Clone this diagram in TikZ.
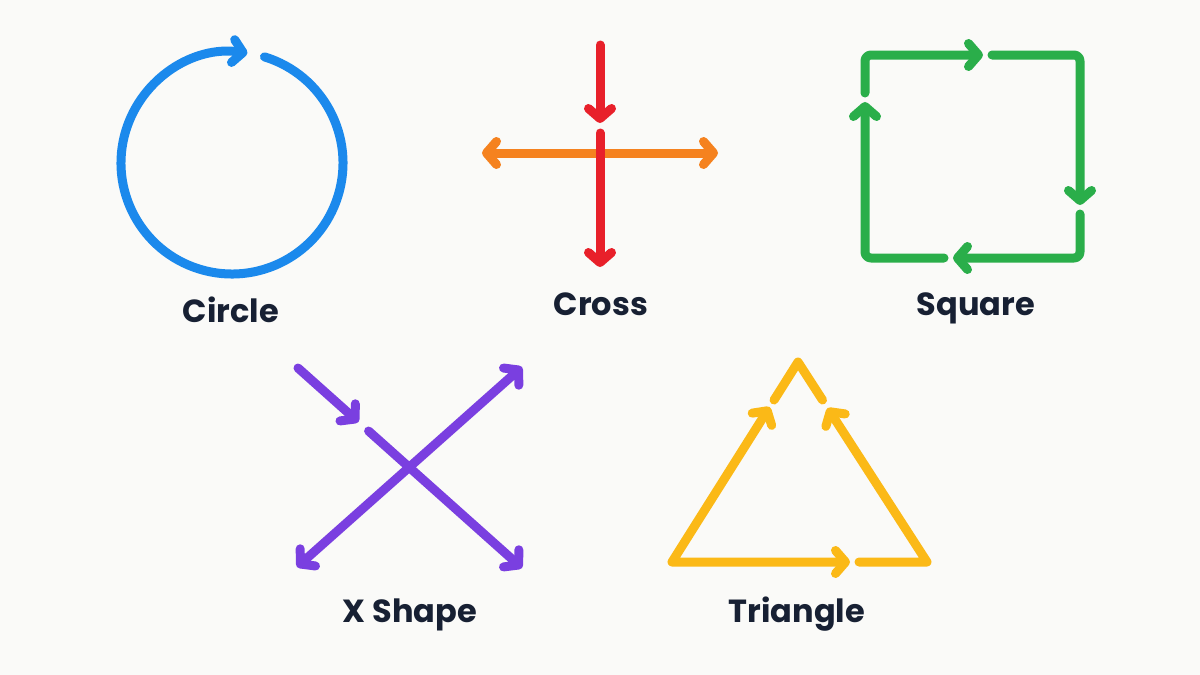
\documentclass[tikz,border=0pt]{standalone}
\usepackage{fontspec}
\newfontfamily\lblfont{Poppins Bold}
\usetikzlibrary{arrows.meta,calc}
\definecolor{bgc}{RGB}{250,250,248}
\definecolor{cblue}{RGB}{27,137,236}
\definecolor{cred}{RGB}{232,32,42}
\definecolor{corange}{RGB}{245,130,31}
\definecolor{cgreen}{RGB}{42,174,74}
\definecolor{cpurple}{RGB}{122,63,224}
\definecolor{cyellow}{RGB}{251,185,23}
\definecolor{ctext}{RGB}{23,32,51}
\tikzset{
  shapeline/.style={line width=9pt, line cap=round, line join=round},
  >={Straight Barb[length=10pt, width=23pt, round]},
  lbl/.style={anchor=base, text=ctext, font=\lblfont\fontsize{32}{36}\selectfont},
}
\begin{document}
\begin{tikzpicture}[x=1pt,y=-1pt]
\useasboundingbox (0,0) rectangle (1200,675);
\fill[bgc] (0,0) rectangle (1200,675);

% Circle
\coordinate (cc) at (232,163);
\draw[shapeline, cblue, ->] ($(cc)+(-73:111)$) arc[start angle=-73, end angle=278, radius=111];
\node[lbl] (lcircle) at (231,322) {Circle};

% Cross
\coordinate (ch1) at (482,153);
\coordinate (ch2) at (718,153);
\coordinate (cv1) at (600,45);
\coordinate (cv2) at (600,123);
\coordinate (cv3) at (600,133);
\coordinate (cv4) at (600,267);
\draw[shapeline, corange, <->] (ch1) -- (ch2);
\draw[shapeline, cred, ->] (cv1) -- (cv2);
\draw[shapeline, cred, ->] (cv3) -- (cv4);
\node[lbl] (lcross) at (601,315) {Cross};

% Square
\coordinate (sTL) at (865,55);
\coordinate (sTR) at (1080,55);
\coordinate (sBR) at (1080,258);
\coordinate (sBL) at (865,258);
\draw[shapeline, cgreen, rounded corners=6pt, ->] (865,93) -- (sTL) -- (983,55);
\draw[shapeline, cgreen, rounded corners=6pt, ->] (992,55) -- (sTR) -- (1080,205);
\draw[shapeline, cgreen, rounded corners=6pt, ->] (1080,214) -- (sBR) -- (953,258);
\draw[shapeline, cgreen, rounded corners=6pt, ->] (944,258) -- (sBL) -- (865,102);
\node[lbl] (lsquare) at (976,315) {Square};

% X shape
\coordinate (xa1) at (298,368);
\coordinate (xa2) at (522,568);
\coordinate (xb1) at (297,567);
\coordinate (xb2) at (522,367);
\draw[shapeline, cpurple, <->] (xb1) -- (xb2);
\draw[shapeline, cpurple, ->] (xa1) -- ($(xa1)!0.27!(xa2)$);
\draw[shapeline, cpurple, ->] ($(xa1)!0.315!(xa2)$) -- (xa2);
\node[lbl] (lx) at (410,622) {X Shape};

% Triangle
\coordinate (tBL) at (672,562);
\coordinate (tT) at (798,362);
\coordinate (tBR) at (927,562);
\draw[shapeline, cyellow, <->] ($(tBL)!0.775!(tT)$) -- (tBL) -- (850,562);
\draw[shapeline, cyellow, ->] (859,562) -- (tBR) -- ($(tBR)!0.77!(tT)$);
\draw[shapeline, cyellow] ($(tBL)!0.81!(tT)$) -- (tT) -- ($(tBR)!0.81!(tT)$);
\node[lbl] (ltri) at (797,622) {Triangle};
\end{tikzpicture}
\end{document}
